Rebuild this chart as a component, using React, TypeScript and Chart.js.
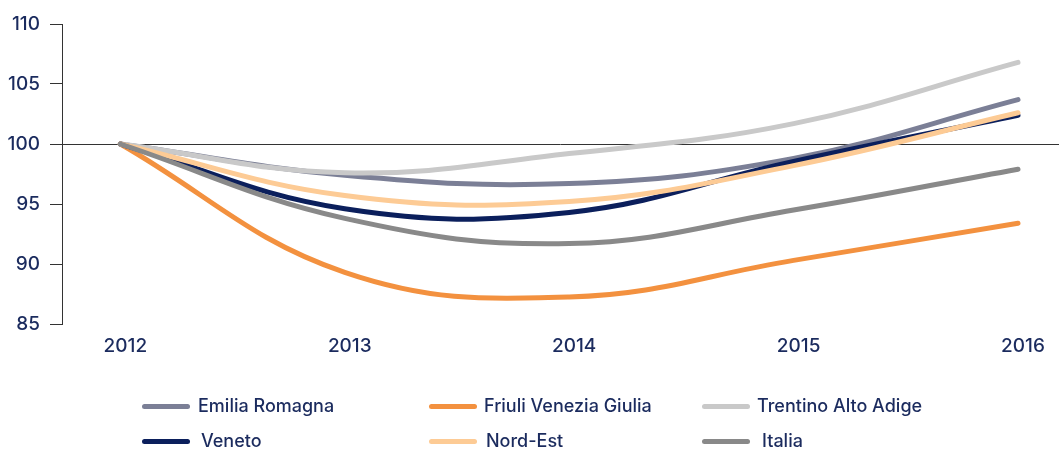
import React, { useEffect, useRef } from "react";
import { Chart, registerables } from "chart.js";

Chart.register(...registerables);

const years = [2012, 2013, 2014, 2015, 2016];
const yTicks = [85, 90, 95, 100, 105, 110];
const referenceValue = 100;

const seriesNames = [
  "Emilia Romagna",
  "Friuli Venezia Giulia",
  "Trentino Alto Adige",
  "Veneto",
  "Nord-Est",
  "Italia",
];
const emiliaRomagna = [100, 97.4, 96.7, 98.8, 103.7];
const friuliVeneziaGiulia = [100, 89.3, 87.25, 90.3, 93.4];
const trentinoAltoAdige = [100, 97.6, 99.2, 101.7, 106.8];
const veneto = [100, 94.6, 94.3, 98.55, 102.4];
const nordEst = [100, 95.7, 95.2, 98.2, 102.6];
const italia = [100, 93.8, 91.7, 94.5, 97.9];

const seriesValues = [emiliaRomagna, friuliVeneziaGiulia, trentinoAltoAdige, veneto, nordEst, italia];
const seriesColors = ["#7b7f96", "#f3913f", "#c9c9c9", "#0b1f5c", "#fdcb95", "#898989"];

const TEXT = "#1b2b5e";
const FONT = "Inter, 'Liberation Sans', sans-serif";

const legendPos = [
  { x: 142, y: 406, tx: 198 },
  { x: 429, y: 406, tx: 484 },
  { x: 702, y: 406, tx: 757 },
  { x: 142, y: 441, tx: 201 },
  { x: 429, y: 441, tx: 486 },
  { x: 702, y: 441, tx: 762 },
];

const refLinePlugin = {
  id: "refLine",
  beforeDatasetsDraw(chart: any) {
    const { ctx, chartArea, scales } = chart;
    const y = Math.round(scales.y.getPixelForValue(referenceValue)) + 0.5;
    ctx.save();
    ctx.strokeStyle = "#333333";
    ctx.lineWidth = 1;
    ctx.beginPath();
    ctx.moveTo(chartArea.left, y);
    ctx.lineTo(chart.width, y);
    ctx.stroke();
    ctx.restore();
  },
};

export default function App() {
  const ref = useRef<HTMLCanvasElement | null>(null);

  useEffect(() => {
    if (!ref.current) return;
    const chart = new Chart(ref.current, {
      type: "line",
      data: {
        datasets: seriesNames.map((name, i) => ({
          label: name,
          data: years.map((yr, j) => ({ x: yr, y: seriesValues[i][j] })),
          borderColor: seriesColors[i],
          backgroundColor: seriesColors[i],
          borderWidth: 5,
          borderCapStyle: "round",
          borderJoinStyle: "round",
          pointRadius: 0,
          tension: 0.4,
          fill: false,
          order: seriesNames.length - 1 - i,
        })),
      },
      options: {
        animation: false,
        responsive: true,
        maintainAspectRatio: false,
        layout: { padding: { top: 24, right: 19, bottom: 87, left: 0 } },
        plugins: { legend: { display: false }, tooltip: { enabled: false } },
        scales: {
          x: {
            type: "linear",
            min: 2011.74,
            max: 2016.098,
            afterBuildTicks: (s: any) => {
              s.ticks = years.map((v) => ({ value: v }));
            },
            afterFit: (s: any) => {
              s.height = 40;
            },
            grid: { display: false, drawTicks: false },
            border: { display: false },
            ticks: {
              color: TEXT,
              font: { family: FONT, size: 19, weight: "500" },
              padding: 11,
              labelOffset: 5,
              maxRotation: 0,
              autoSkip: false,
              callback: (v: any) => String(v),
            },
          },
          y: {
            min: 85,
            max: 110,
            afterBuildTicks: (s: any) => {
              s.ticks = yTicks.map((v) => ({ value: v }));
            },
            afterFit: (s: any) => {
              s.width = 62;
            },
            grid: {
              drawOnChartArea: false,
              drawTicks: true,
              tickLength: 12,
              color: "#333333",
              lineWidth: 1,
            },
            border: { display: true, color: "#333333", width: 1 },
            ticks: {
              color: TEXT,
              font: { family: FONT, size: 19, weight: "500" },
              padding: 10,
              callback: (v: any) => String(v),
            },
          },
        },
      },
      plugins: [refLinePlugin],
    } as any);
    return () => chart.destroy();
  }, []);

  return (
    <div style={{ position: "absolute", left: 0, top: 0, width: 1059, height: 451, background: "#fff" }}>
      <canvas ref={ref} />
      {seriesNames.map((name, i) => (
        <React.Fragment key={name}>
          <div
            style={{
              position: "absolute",
              left: legendPos[i].x,
              top: legendPos[i].y - 2.5,
              width: 48,
              height: 5,
              borderRadius: 3,
              background: seriesColors[i],
            }}
          />
          <div
            style={{
              position: "absolute",
              left: legendPos[i].tx,
              top: legendPos[i].y - 12,
              height: 24,
              lineHeight: "24px",
              fontFamily: FONT,
              fontSize: 18,
              fontWeight: 500,
              color: TEXT,
              whiteSpace: "nowrap",
            }}
          >
            {name}
          </div>
        </React.Fragment>
      ))}
    </div>
  );
}
